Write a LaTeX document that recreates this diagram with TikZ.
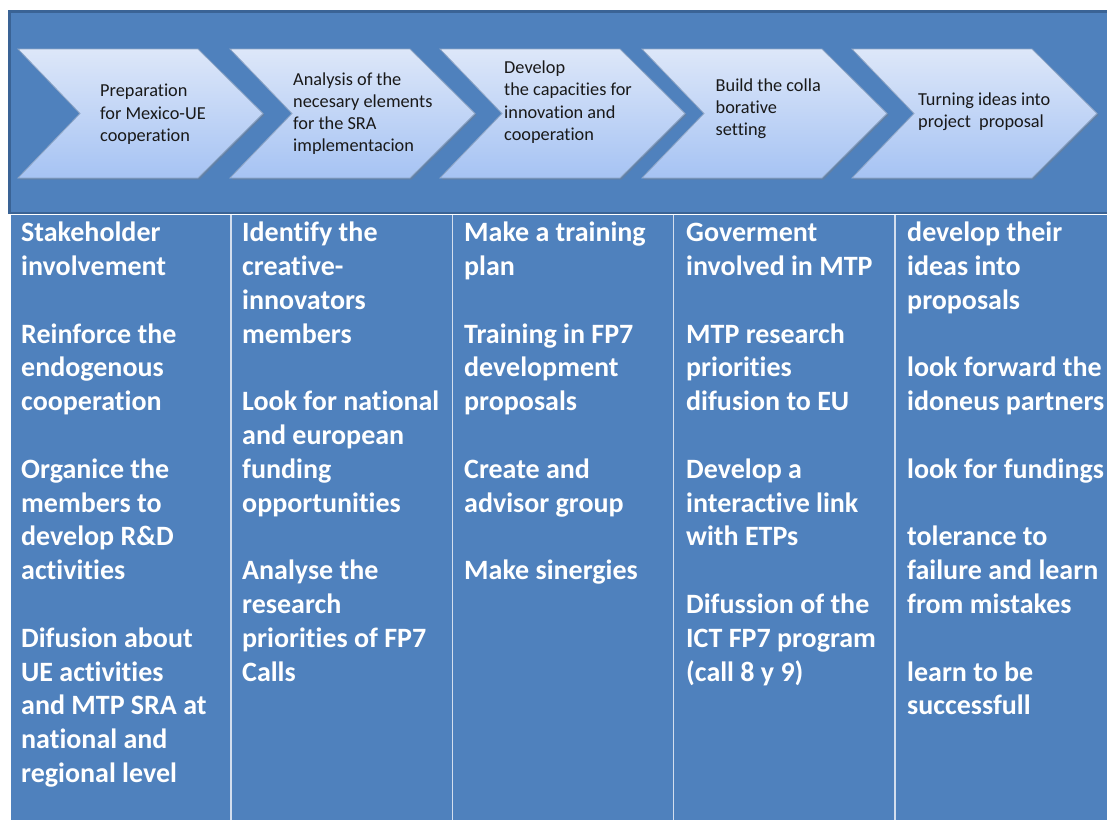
\documentclass[tikz,border=0pt]{standalone}
\usepackage{fontspec}
\setmainfont{Carlito}[Ligatures={NoCommon}]
\usetikzlibrary{shadows}
\definecolor{bgblue}{HTML}{4F81BD}
\definecolor{bordblue}{HTML}{3A6395}
\definecolor{chevtop}{HTML}{DDE7F9}
\definecolor{chevbot}{HTML}{A6C3F3}
\definecolor{chevline}{HTML}{8FA6C6}
\definecolor{divline}{HTML}{D3DEEE}
\begin{document}
\begin{tikzpicture}[x=1pt,y=-1pt,
  chev/.style={top color=chevtop,bottom color=chevbot,draw=chevline,line width=0.8pt,
    drop shadow={shadow xshift=1.5pt,shadow yshift=-1.5pt,opacity=0.35}},
  chevtext/.style={anchor=base west,inner sep=0pt,font=\fontsize{18.3}{22}\selectfont,text=black!90},
  coltext/.style={anchor=base west,inner sep=0pt,font=\fontsize{28}{34}\selectfont\bfseries,text=white},
  divider/.style={draw=divline,line width=1.3pt}]
\useasboundingbox (0,0) rectangle (1107,820);
\fill[white] (0,0) rectangle (1107,820);
% top band
\draw[fill=bgblue,draw=bordblue,line width=2.5pt] (9.5,11.5) rectangle (1115,213);
% lower panel
\fill[bgblue] (11,214.5) rectangle (1107,820);
\foreach \x in {231,452.5,673.5,895}
  \draw[divider] (\x,215) -- (\x,820);
% chevrons
\foreach \L in {18,230,440,642,852}
  \path[chev] (\L,49) -- (\L+180,49) -- (\L+245,113.5) -- (\L+180,178) -- (\L,178) -- (\L+62,113.5) -- cycle;
% chevron texts
\foreach \t [count=\i] in {Preparation,for Mexico-UE,cooperation}
  \node[chevtext] (ca\i) at (100,{96.7+22.3*(\i-1)}) {\t};
\foreach \t [count=\i] in {Analysis of the,necesary elements,for the SRA,implementacion}
  \node[chevtext] (cb\i) at (293,{85+22.3*(\i-1)}) {\t};
\foreach \t [count=\i] in {Develop,the capacities for,innovation and,cooperation}
  \node[chevtext] (cc\i) at (504,{73.5+22.3*(\i-1)}) {\t};
\foreach \t [count=\i] in {Build the colla,borative,setting}
  \node[chevtext] (cd\i) at (715.5,{91+22.3*(\i-1)}) {\t};
\foreach \t [count=\i] in {Turning ideas into,{project\ \ proposal}}
  \node[chevtext] (ce\i) at (918,{105+22.3*(\i-1)}) {\t};
% column texts
\foreach \t [count=\i] in {Stakeholder,involvement,{},Reinforce the,endogenous,cooperation,{},Organice the,members to,develop R\&D,activities,{},Difusion about,UE activities,and MTP SRA at,national and,regional level}
  \node[coltext] (ka\i) at (21,{241.7+33.8*(\i-1)}) {\t};
\foreach \t [count=\i] in {Identify the,creative-,innovators,members,{},Look for national,and european,funding,opportunities,{},Analyse the,research,priorities of FP7,Calls}
  \node[coltext] (kb\i) at (242,{241.7+33.8*(\i-1)}) {\t};
\foreach \t [count=\i] in {Make a training,plan,{},Training in FP7,development,proposals,{},Create and,advisor group,{},Make sinergies}
  \node[coltext] (kc\i) at (464,{241.7+33.8*(\i-1)}) {\t};
\foreach \t [count=\i] in {Goverment,involved in MTP,{},MTP research,priorities,difusion to EU,{},Develop a,interactive link,with ETPs,{},Difussion of the,ICT FP7 program,(call 8 y 9)}
  \node[coltext] (kd\i) at (686,{241.7+33.8*(\i-1)}) {\t};
\foreach \t [count=\i] in {develop their,ideas into,proposals,{},look forward the,idoneus partners,{},look for fundings,{},tolerance to,failure and learn,from mistakes,{},learn to be,successfull}
  \node[coltext] (ke\i) at (907,{241.7+33.8*(\i-1)}) {\t};
\end{tikzpicture}
\end{document}
